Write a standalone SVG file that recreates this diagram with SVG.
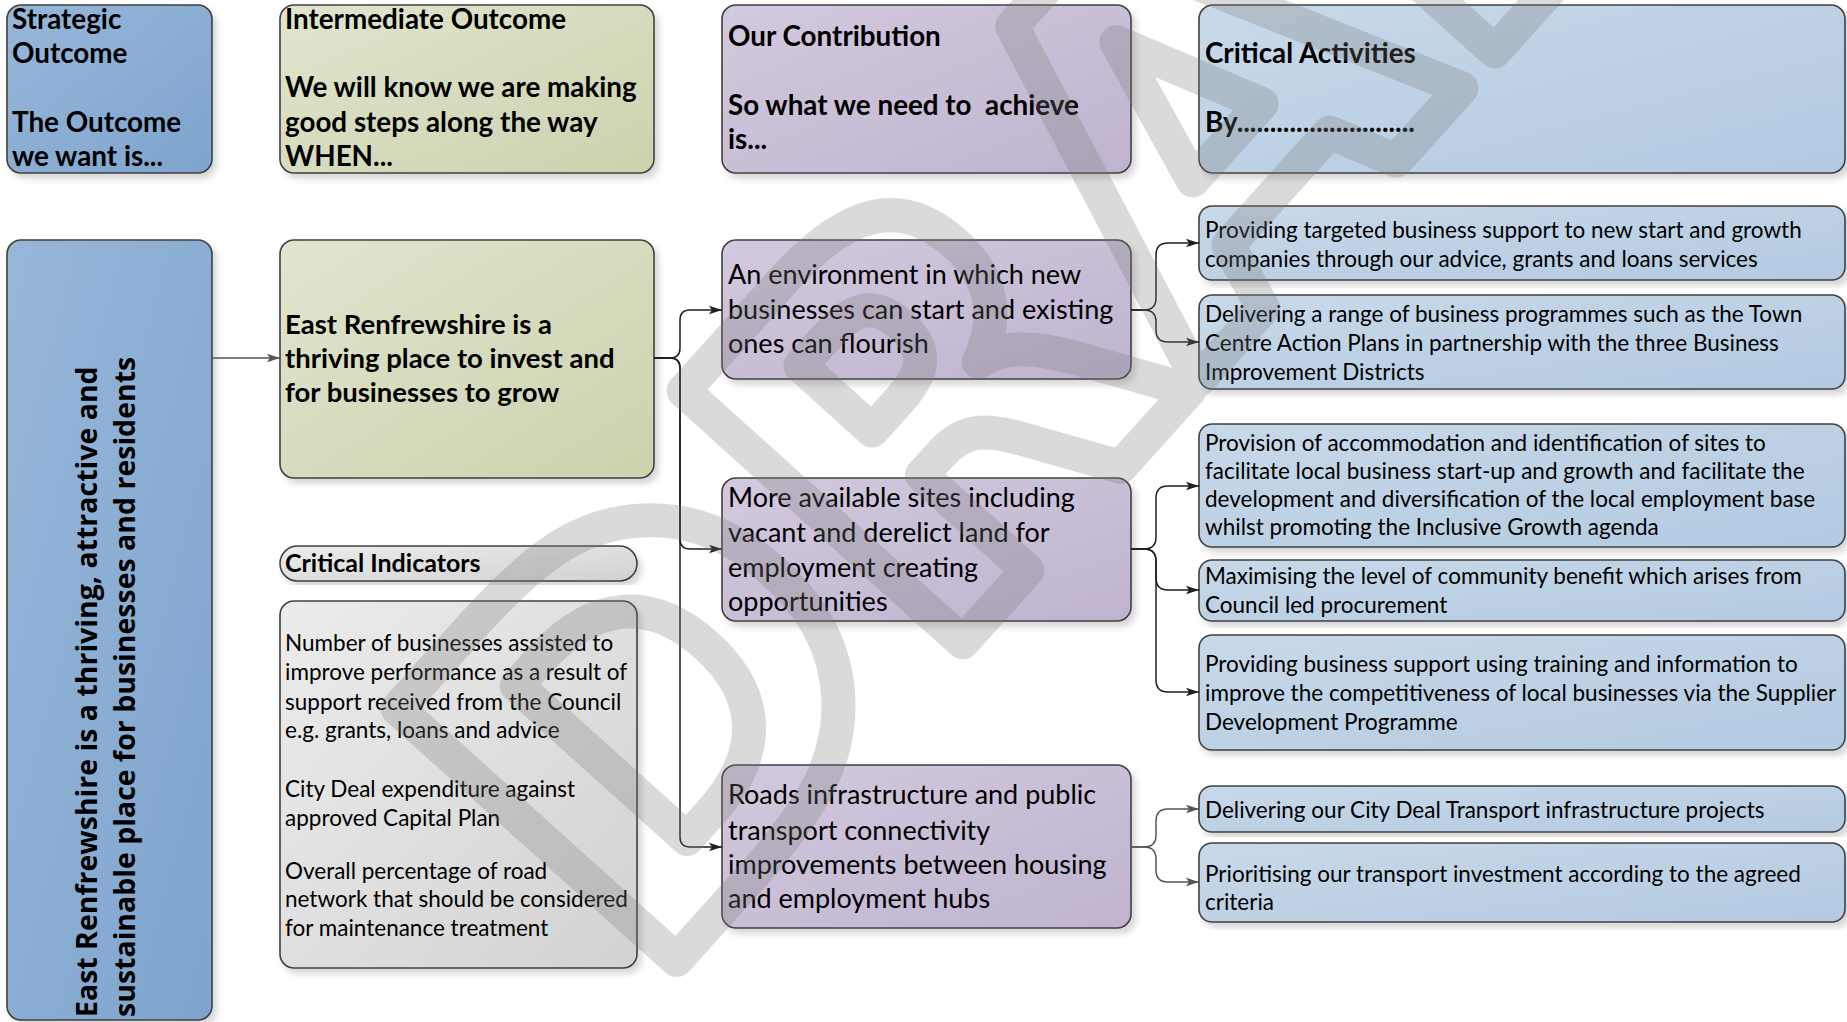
<svg xmlns="http://www.w3.org/2000/svg" width="1847" height="1022" viewBox="0 0 1847 1022">
<defs>
<linearGradient id="gBlue" x1="0" y1="0" x2="1" y2="1"><stop offset="0" stop-color="#97b7d9"/><stop offset="1" stop-color="#7ea4cd"/></linearGradient>
<linearGradient id="gGreen" x1="0" y1="0" x2="1" y2="1"><stop offset="0" stop-color="#e1e5ce"/><stop offset="1" stop-color="#ccd2ad"/></linearGradient>
<linearGradient id="gPurple" x1="0" y1="0" x2="1" y2="1"><stop offset="0" stop-color="#d2cade"/><stop offset="1" stop-color="#bfb3cf"/></linearGradient>
<linearGradient id="gLight" x1="0" y1="0" x2="1" y2="1"><stop offset="0" stop-color="#c8d9e9"/><stop offset="1" stop-color="#b3cae1"/></linearGradient>
<linearGradient id="gGray" x1="0" y1="0" x2="1" y2="1"><stop offset="0" stop-color="#ececec"/><stop offset="1" stop-color="#d2d2d2"/></linearGradient>
<filter id="sh" x="-5%" y="-5%" width="115%" height="115%"><feDropShadow dx="4" dy="5" stdDeviation="3" flood-color="#000" flood-opacity="0.16"/></filter>
<marker id="arrD" markerUnits="userSpaceOnUse" markerWidth="14" markerHeight="10" refX="13" refY="5" orient="auto"><path d="M0,0.8 L13,5 L0,9.2 L3,5 Z" fill="#1f1f1f"/></marker>
<marker id="arrG" markerUnits="userSpaceOnUse" markerWidth="14" markerHeight="10" refX="13" refY="5" orient="auto"><path d="M0,0.8 L13,5 L0,9.2 L3,5 Z" fill="#555"/></marker>
<style>
.box{stroke:#404040;stroke-width:1.6;filter:url(#sh)}
.blue{fill:url(#gBlue)}.green{fill:url(#gGreen)}.purple{fill:url(#gPurple)}.light{fill:url(#gLight)}.gray{fill:url(#gGray)}
text{font-family:Lato,"Liberation Sans",sans-serif;fill:#000}
.hd{font-size:27.8px;font-weight:700}
.ib{font-size:27.5px;font-weight:700}
.cn{font-size:27px}
.ac{font-size:22.5px}
.in{font-size:22.5px}
.ct{font-size:25px;font-weight:700}
.vt{font-family:"Open Sans","DejaVu Sans",sans-serif;font-size:28.5px;font-weight:700}
.conn{fill:none;stroke:#1f1f1f;stroke-width:1.5;marker-end:url(#arrD)}
.conn.g{stroke:#555;marker-end:url(#arrG)}
.wm{font-family:"DejaVu Sans",sans-serif;font-size:515px;font-weight:700;fill:none;stroke:#7a7a7a;stroke-width:34px;stroke-linejoin:round}
</style>
</defs>

<g id="strategic-header"><rect class="box blue" x="7" y="5" width="205" height="168" rx="14"/>
<text class="hd"><tspan x="12" y="29">Strategic</tspan><tspan x="12" y="63">Outcome</tspan><tspan x="12" y="131.5">The Outcome</tspan><tspan x="12" y="166">we want is...</tspan></text></g>

<g id="intermediate-header"><rect class="box green" x="280" y="5" width="374" height="168" rx="14"/>
<text class="hd"><tspan x="285" y="29">Intermediate Outcome</tspan><tspan x="285" y="97">We will know we are making</tspan><tspan x="285" y="131.5">good steps along the way</tspan><tspan x="285" y="166">WHEN...</tspan></text></g>

<g id="contribution-header"><rect class="box purple" x="722" y="5" width="409" height="168" rx="14"/>
<text class="hd" style="white-space:pre"><tspan x="728" y="45.5">Our Contribution</tspan><tspan x="728" y="115">So what we need to  achieve</tspan><tspan x="728" y="149">is...</tspan></text></g>

<g id="activities-header"><rect class="box light" x="1199" y="5" width="646" height="168" rx="14"/>
<text class="hd"><tspan x="1205" y="63">Critical Activities</tspan><tspan x="1205" y="131.5">By...........................</tspan></text></g>

<g id="strategic-outcome"><rect class="box blue" x="7" y="240" width="205" height="780" rx="14"/>
<text class="vt" transform="translate(97,1017) rotate(-90)">East Renfrewshire is a thriving, attractive and</text>
<text class="vt" transform="translate(135,1017) rotate(-90)">sustainable place for businesses and residents</text></g>

<g id="intermediate-outcome"><rect class="box green" x="280" y="240" width="374" height="238" rx="14"/>
<text class="ib"><tspan x="285" y="334">East Renfrewshire is a</tspan><tspan x="285" y="368">thriving place to invest and</tspan><tspan x="285" y="402">for businesses to grow</tspan></text></g>

<g id="critical-indicators-title"><rect class="box gray" x="280" y="546" width="357" height="35" rx="17.5"/>
<text class="ct" x="285" y="572">Critical Indicators</text></g>

<g id="critical-indicators"><rect class="box gray" x="280" y="601" width="357" height="367" rx="14"/>
<text class="in"><tspan x="285" y="651">Number of businesses assisted to</tspan><tspan x="285" y="680">improve performance as a result of</tspan><tspan x="285" y="709.5">support received from the Council</tspan><tspan x="285" y="738">e.g. grants, loans and advice</tspan><tspan x="285" y="797">City Deal expenditure against</tspan><tspan x="285" y="825.5">approved Capital Plan</tspan><tspan x="285" y="878.5">Overall percentage of road</tspan><tspan x="285" y="907">network that should be considered</tspan><tspan x="285" y="936">for maintenance treatment</tspan></text></g>

<g id="contribution-1"><rect class="box purple" x="722" y="240" width="409" height="139" rx="14"/>
<text class="cn"><tspan x="728" y="283.5">An environment in which new</tspan><tspan x="728" y="319">businesses can start and existing</tspan><tspan x="728" y="353">ones can flourish</tspan></text></g>

<g id="contribution-2"><rect class="box purple" x="722" y="478" width="409" height="143" rx="14"/>
<text class="cn"><tspan x="728" y="507">More available sites including</tspan><tspan x="728" y="541.5">vacant and derelict land for</tspan><tspan x="728" y="577">employment creating</tspan><tspan x="728" y="611">opportunities</tspan></text></g>

<g id="contribution-3"><rect class="box purple" x="722" y="765" width="409" height="163" rx="14"/>
<text class="cn"><tspan x="728" y="804">Roads infrastructure and public</tspan><tspan x="728" y="839.5">transport connectivity</tspan><tspan x="728" y="874">improvements between housing</tspan><tspan x="728" y="908">and employment hubs</tspan></text></g>

<g id="activity-1"><rect class="box light" x="1199" y="206" width="646" height="74" rx="13"/>
<text class="ac"><tspan x="1205" y="237.5">Providing targeted business support to new start and growth</tspan><tspan x="1205" y="266.5">companies through our advice, grants and loans services</tspan></text></g>

<g id="activity-2"><rect class="box light" x="1199" y="295" width="646" height="94" rx="13"/>
<text class="ac"><tspan x="1205" y="321.5">Delivering a range of business programmes such as the Town</tspan><tspan x="1205" y="350.5">Centre Action Plans in partnership with the three Business</tspan><tspan x="1205" y="379.5">Improvement Districts</tspan></text></g>

<g id="activity-3"><rect class="box light" x="1199" y="424" width="646" height="123" rx="13"/>
<text class="ac"><tspan x="1205" y="450.5">Provision of accommodation and identification of sites to</tspan><tspan x="1205" y="478.5">facilitate local business start-up and growth and facilitate the</tspan><tspan x="1205" y="507">development and diversification of the local employment base</tspan><tspan x="1205" y="534.5">whilst promoting the Inclusive Growth agenda</tspan></text></g>

<g id="activity-4"><rect class="box light" x="1199" y="560" width="646" height="61" rx="13"/>
<text class="ac"><tspan x="1205" y="583.5">Maximising the level of community benefit which arises from</tspan><tspan x="1205" y="613">Council led procurement</tspan></text></g>

<g id="activity-5"><rect class="box light" x="1199" y="635" width="646" height="115" rx="13"/>
<text class="ac"><tspan x="1205" y="671.5">Providing business support using training and information to</tspan><tspan x="1205" y="700.5">improve the competitiveness of local businesses via the Supplier</tspan><tspan x="1205" y="729.5">Development Programme</tspan></text></g>

<g id="activity-6"><rect class="box light" x="1199" y="786" width="646" height="46" rx="13"/>
<text class="ac" x="1205" y="818">Delivering our City Deal Transport infrastructure projects</text></g>

<g id="activity-7"><rect class="box light" x="1199" y="843" width="646" height="79" rx="13"/>
<text class="ac"><tspan x="1205" y="881.5">Prioritising our transport investment according to the agreed</tspan><tspan x="1205" y="909.5">criteria</tspan></text></g>

<g id="connectors">
<path class="conn g" d="M212,358 H280"/>
<path class="conn" d="M654,358 H670 Q680,358 680,348 V320 Q680,310 690,310 H722"/>
<path class="conn" d="M654,358 H670 Q680,358 680,368 V539 Q680,549 690,549 H722"/>
<path class="conn" d="M654,358 H670 Q680,358 680,368 V837 Q680,847 690,847 H722"/>
<path class="conn" d="M1131,310 H1144 Q1156,310 1156,298 V255 Q1156,243 1168,243 H1199"/>
<path class="conn" d="M1131,310 H1144 Q1156,310 1156,322 V330 Q1156,342 1168,342 H1199"/>
<path class="conn" d="M1131,549 H1144 Q1156,549 1156,537 V498 Q1156,486 1168,486 H1199"/>
<path class="conn" d="M1131,549 H1144 Q1156,549 1156,561 V578 Q1156,590 1168,590 H1199"/>
<path class="conn" d="M1131,549 H1144 Q1156,549 1156,561 V680 Q1156,692 1168,692 H1199"/>
<path class="conn g" d="M1131,847 H1144 Q1156,847 1156,835 V821 Q1156,809 1168,809 H1199"/>
<path class="conn g" d="M1131,847 H1144 Q1156,847 1156,859 V870 Q1156,882 1168,882 H1199"/>
</g>

<g id="watermark" opacity="0.27">
<text class="wm" transform="translate(645,995) rotate(-48)" x="0" y="0">DRAFT</text>
</g>
</svg>
